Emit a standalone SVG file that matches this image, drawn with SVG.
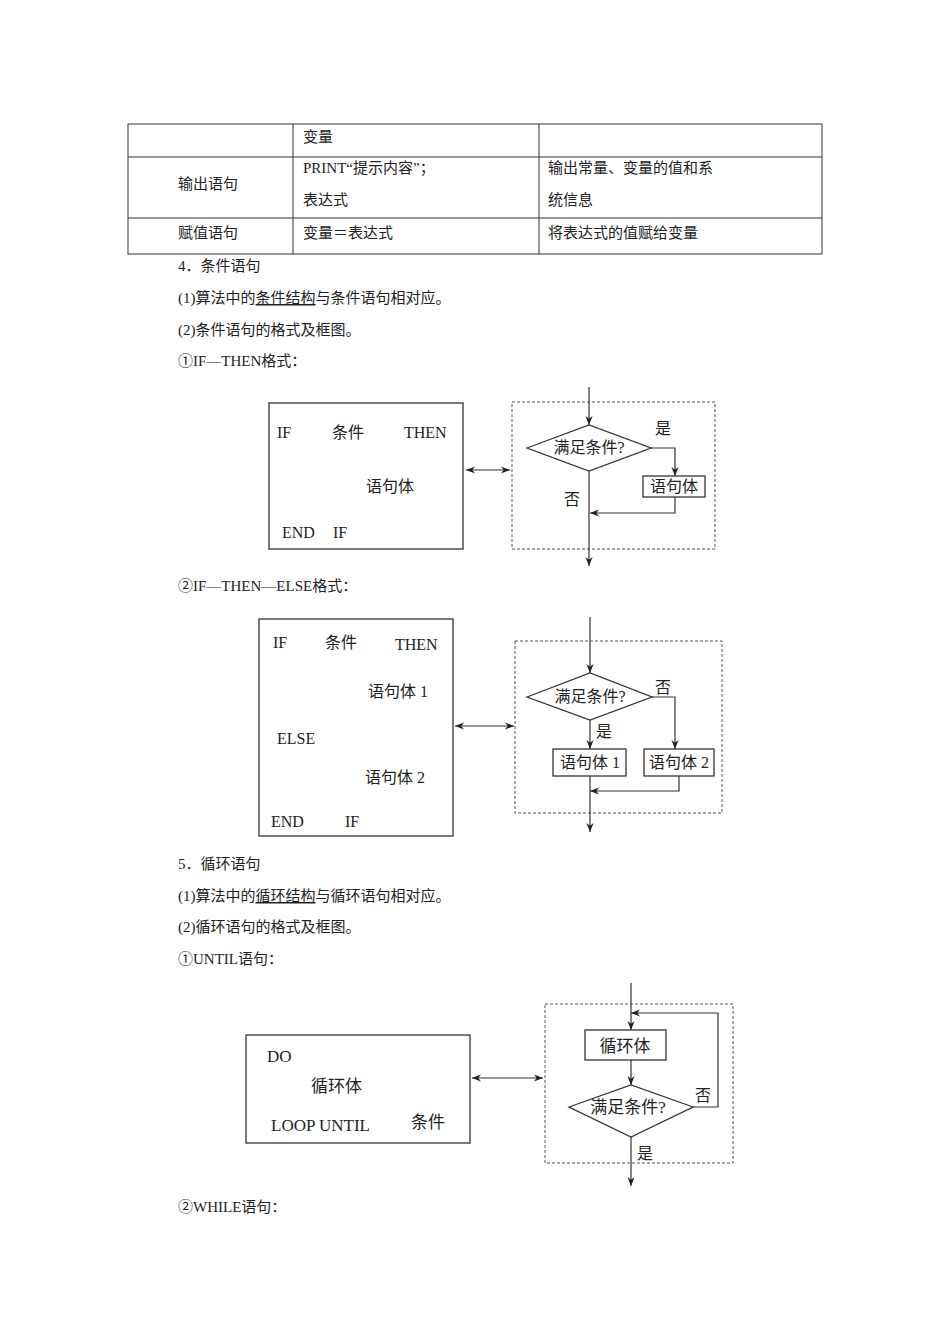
<svg xmlns="http://www.w3.org/2000/svg" width="950" height="1344" viewBox="0 0 950 1344">
<style>
text{font-family:"Liberation Serif","Noto Sans CJK SC",serif;fill:#222}
.b{font-size:15px}
.d{font-size:16px}
.ln{stroke:#333;stroke-width:1.2;fill:none}
.bx{stroke:#333;stroke-width:1.3;fill:#fff}
.dash{stroke:#555;stroke-width:1;fill:none;stroke-dasharray:3 2}
</style>
<defs>
<marker id="a" viewBox="0 0 10 10" refX="10" refY="5" markerWidth="9" markerHeight="9" orient="auto-start-reverse" markerUnits="userSpaceOnUse"><path d="M0,1 L10,5 L0,9 L3,5 Z" fill="#222"/></marker>
</defs>
<rect width="950" height="1344" fill="#fff"/>
<g id="table" class="b">
<rect x="128" y="124" width="694" height="130" fill="none" stroke="#333"/>
<path d="M128,157H822M128,218H822M293,124V254M539,124V254" stroke="#333" fill="none"/>
<text x="303" y="142">变量</text>
<text x="178" y="189">输出语句</text>
<text x="303" y="173">PRINT“提示内容”；</text>
<text x="303" y="205">表达式</text>
<text x="548" y="173">输出常量、变量的值和系</text>
<text x="548" y="205">统信息</text>
<text x="178" y="238">赋值语句</text>
<text x="303" y="238">变量＝表达式</text>
<text x="548" y="238">将表达式的值赋给变量</text>
</g>
<g id="body" class="b">
<text x="178" y="271">4．条件语句</text>
<text x="178" y="303">(1)算法中的<tspan text-decoration="underline">条件结构</tspan>与条件语句相对应。</text>
<text x="178" y="335">(2)条件语句的格式及框图。</text>
<text x="178" y="366">①IF—THEN格式：</text>
<text x="178" y="591">②IF—THEN—ELSE格式：</text>
<text x="178" y="869">5．循环语句</text>
<text x="178" y="901">(1)算法中的<tspan text-decoration="underline">循环结构</tspan>与循环语句相对应。</text>
<text x="178" y="932">(2)循环语句的格式及框图。</text>
<text x="178" y="964">①UNTIL语句：</text>
<text x="178" y="1212">②WHILE语句：</text>
</g>
<g id="code1" class="d">
<rect x="269" y="403" width="194" height="146" class="bx"/>
<text x="277" y="438">IF</text><text x="332" y="438">条件</text><text x="404" y="438">THEN</text>
<text x="366" y="492">语句体</text>
<text x="282" y="538">END</text><text x="333" y="538">IF</text>
</g>
<g id="flow1" class="d">
<rect x="512" y="402" width="203" height="147" class="dash"/>
<polygon points="527,448 589,425 651,448 589,471" class="bx"/>
<text x="589" y="453" text-anchor="middle">满足条件?</text>
<rect x="643" y="476" width="62" height="21" class="bx"/>
<text x="674" y="492" text-anchor="middle">语句体</text>
<text x="655" y="434">是</text><text x="564" y="505">否</text>
</g>
<g id="code2" class="d">
<rect x="259" y="619" width="194" height="217" class="bx"/>
<text x="273" y="648">IF</text><text x="325" y="648">条件</text><text x="395" y="650">THEN</text>
<text x="368" y="697">语句体 1</text>
<text x="277" y="744">ELSE</text>
<text x="365" y="783">语句体 2</text>
<text x="271" y="827">END</text><text x="345" y="827">IF</text>
</g>
<g id="flow2" class="d">
<rect x="515" y="641" width="207" height="172" class="dash"/>
<polygon points="527,697 590,673 652,697 590,720" class="bx"/>
<text x="590" y="702" text-anchor="middle">满足条件?</text>
<rect x="553" y="749" width="73" height="27" class="bx"/>
<text x="590" y="768" text-anchor="middle">语句体 1</text>
<rect x="644" y="749" width="70" height="27" class="bx"/>
<text x="679" y="768" text-anchor="middle">语句体 2</text>
<text x="655" y="693">否</text><text x="596" y="737">是</text>
</g>
<g id="code3" class="d" font-size="17">
<rect x="246" y="1035" width="224" height="108" class="bx"/>
<text x="267" y="1062" style="font-size:17px">DO</text>
<text x="311" y="1092" style="font-size:17px">循环体</text>
<text x="271" y="1131" style="font-size:17px">LOOP  UNTIL</text>
<text x="411" y="1128" style="font-size:17px">条件</text>
</g>
<g id="flow3" class="d">
<rect x="545" y="1004" width="188" height="159" class="dash"/>
<rect x="585" y="1030" width="81" height="30" class="bx"/>
<text x="625" y="1052" text-anchor="middle" style="font-size:17px">循环体</text>
<polygon points="569,1107 631,1085 693,1107 631,1137" class="bx"/>
<text x="628" y="1113" text-anchor="middle" style="font-size:17px">满足条件?</text>
<text x="695" y="1101">否</text><text x="637" y="1159">是</text>
</g>
<g id="connectors" class="ln">
<path d="M589,387V425" marker-end="url(#a)"/>
<path d="M651,448H675V476" marker-end="url(#a)"/>
<path d="M675,497V513H590" marker-end="url(#a)"/>
<path d="M589,471V566" marker-end="url(#a)"/>
<path d="M466,470H510" marker-start="url(#a)" marker-end="url(#a)"/>
<path d="M590,617V673" marker-end="url(#a)"/>
<path d="M652,697H675V749" marker-end="url(#a)"/>
<path d="M590,720V749" marker-end="url(#a)"/>
<path d="M679,776V791H590" marker-end="url(#a)"/>
<path d="M590,776V832" marker-end="url(#a)"/>
<path d="M455,726H514" marker-start="url(#a)" marker-end="url(#a)"/>
<path d="M631,983V1030" marker-end="url(#a)"/>
<path d="M693,1107H718V1013H631" marker-end="url(#a)"/>
<path d="M631,1060V1085" marker-end="url(#a)"/>
<path d="M631,1137V1186" marker-end="url(#a)"/>
<path d="M472,1078H543" marker-start="url(#a)" marker-end="url(#a)"/>
</g>
</svg>
